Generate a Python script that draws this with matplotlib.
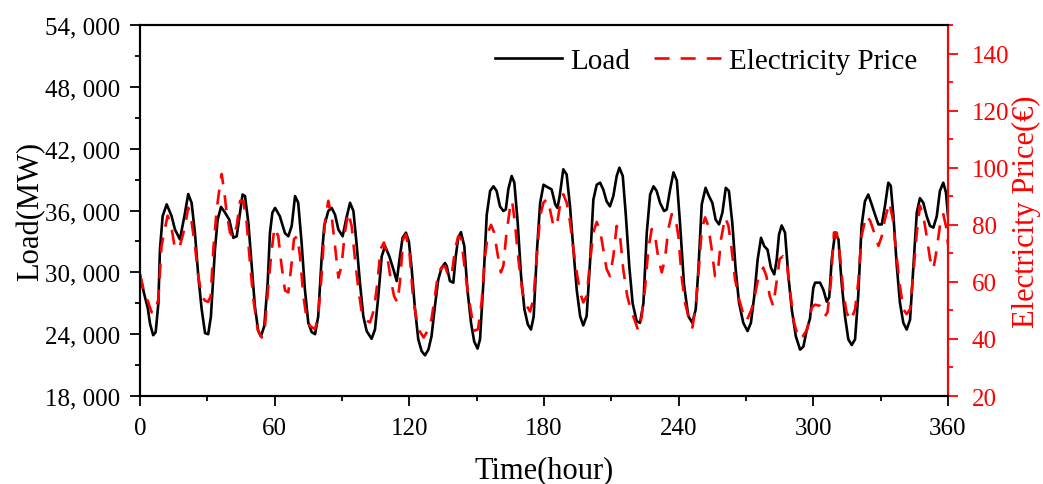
import matplotlib
matplotlib.use('Agg')
from matplotlib import pyplot as plt
from matplotlib.ticker import MultipleLocator, FuncFormatter

plt.rcParams['font.family'] = ['Liberation Serif', 'DejaVu Serif']

# load curve (hour, MW)
load_hours = [0, 2, 3.5, 4.5, 5.9, 7, 8.2, 8.9, 10.1, 11.9, 14.1, 15.6, 17.8, 19.8, 21.5, 23, 24.5, 26, 27.5, 29,
              30.4, 31.6, 33.4, 34.6, 36.1, 37.9, 39.8, 41.6, 43.1, 44.6, 45.7, 46.8, 48.3, 49.8, 51.2, 52.7, 53.9,
              55.4, 56.9, 57.9, 59, 60.2, 62.3, 64.6, 66.1, 67.6, 69.1, 70.5, 72, 73.5, 75, 76.5, 78, 79.4, 80.9,
              82.1, 83.9, 85.4, 86.9, 88.4, 90.3, 91.8, 93.6, 95.1, 96.6, 98, 99.5, 101, 103.2, 104.7, 106.2, 107.7,
              109.2, 111.1, 112.9, 114.4, 115.8, 117, 118.5, 119.8, 121, 122.5, 124, 125.5, 127, 128.5, 129.9, 131.4,
              132.9, 134.4, 135.9, 136.7, 138.1, 139.6, 140.7, 141.8, 143, 144.5, 145.9, 147.5, 148.9, 150.4, 151.5,
              153, 154.5, 156, 157.5, 158.9, 160.4, 161.9, 163, 164.1, 165.6, 166.8, 168.3, 169.8, 171.3, 172.8,
              174.2, 175.4, 176.9, 178.3, 179.8, 181.3, 183.4, 185, 186, 187, 188.6, 190.1, 191.6, 193.1, 194.6,
              196.1, 197.5, 199, 200.5, 202, 203.5, 205, 206.4, 207.9, 209.4, 210.9, 212.4, 213.6, 215.1, 216.5,
              218, 219.5, 221.3, 222.8, 224.3, 225.8, 227.3, 228.8, 230.2, 231.7, 233.5, 234.7, 236.2, 237.7, 239.2,
              240.6, 242.4, 244.3, 246.1, 247.6, 248.8, 250.3, 252, 253.5, 255, 256.5, 258, 259.5, 261, 262.4,
              263.9, 265.4, 266.9, 268.8, 270.7, 272.2, 273.7, 275.2, 276.7, 278.1, 279.6, 281.1, 282.6, 283.7,
              284.7, 285.9, 287.4, 288.9, 290.4, 292.2, 294.1, 295.6, 297.1, 298.5, 300, 300.8, 303, 304.5, 306,
              307.1, 308.2, 309.7, 311.2, 312.6, 314.1, 315.6, 317.1, 318.6, 320, 321.5, 323, 324.5, 326, 327.5,
              329, 330.5, 331.9, 333.4, 334.5, 335.7, 337.2, 338.6, 340.1, 341.6, 343.1, 344.6, 346.1, 347.5, 349,
              350.5, 352, 353.5, 355, 356.4, 357.9, 359.1, 360]
load_mw = [29700, 27800, 26500, 25000, 23900, 24200, 27000, 32200, 35450, 36600, 35450, 34150, 33200, 35450, 37600,
           36750, 33800, 29600, 26400, 24100, 24000, 25700, 32200, 35100, 36350, 35800, 35100, 33350, 33500, 35800,
           37550, 37400, 34800, 30600, 26700, 24300, 23800, 24800, 29000, 33800, 35800, 36250, 35450, 33800, 33500,
           34500, 37400, 36750, 32900, 28300, 25100, 24200, 24000, 25700, 31250, 34500, 35950, 36250, 35600, 34150,
           33500, 35100, 36750, 35950, 32550, 29000, 25750, 24300, 23550, 24450, 27700, 31550, 32550, 31550, 30300,
           29150, 31550, 33350, 33850, 33000, 30500, 26500, 23500, 22350, 21950, 22500, 23800, 26700, 29300, 30450,
           30900, 30600, 29150, 29000, 31550, 33350, 33900, 32550, 28300, 25100, 23300, 22600, 23500, 29000, 35600,
           37900, 38350, 37900, 36400, 35950, 36100, 38050, 39350, 38700, 34800, 29600, 26400, 24950, 24450, 25700,
           32200, 36750, 38500, 38300, 38050, 36600, 36250, 37400, 40000, 39500, 36400, 32200, 28300, 25750, 24850,
           25750, 30900, 37050, 38500, 38700, 38050, 36900, 36400, 37400, 39350, 40150, 39350, 35450, 30600, 27000,
           25250, 25100, 27000, 33850, 37550, 38350, 37900, 36750, 35950, 36100, 38050, 39700, 38900, 34800, 28800,
           25750, 25100, 26400, 30300, 36600, 38200, 37400, 36750, 35100, 34650, 35800, 38200, 37900, 34800, 30300,
           27050, 25100, 24300, 25100, 27700, 31250, 33350, 32550, 32200, 30450, 29800, 31250, 33650, 34550, 33850,
           29600, 26400, 23800, 22500, 22800, 24450, 25500, 28500, 29000, 29000, 28300, 27150, 27600, 31250, 33850,
           33200, 29000, 25750, 23500, 22950, 23500, 27700, 34500, 36900, 37550, 36600, 35600, 34650, 34650, 36400,
           38700, 38400, 35450, 30600, 27050, 25100, 24450, 25400, 30600, 35800, 37200, 36750, 35450, 34500, 34350,
           35450, 37900, 38700, 37750, 35500]

# electricity price (hour, EUR)
price_hours = [0, 2, 3.7, 5.2, 6.5, 8.2, 9.6, 11.1, 12.3, 13.8, 15.6, 17.8, 19.8, 21.5, 23, 24.5, 26, 27.5, 29, 30.4,
               31.5, 32.7, 34.2, 35.6, 36.4, 37.6, 38.6, 40.1, 41.6, 43.1, 44.6, 46, 47.5, 49, 50.5, 52.4, 54.2,
               55.7, 57.2, 58.4, 59.9, 61.6, 63.1, 64.6, 66.1, 67.6, 68.6, 70.1, 71.3, 72.8, 74.3, 75.7, 78, 79.4,
               80.9, 82.4, 83.9, 85.4, 86.9, 88.4, 89.8, 91.3, 92.8, 94.3, 95.8, 97.3, 98.8, 101, 102.5, 104.3, 105.8,
               107.2, 108.7, 109.9, 111.7, 113.2, 114.7, 115.8, 117.3, 118.5, 120.1, 121.5, 122.5, 124, 126.4, 128.5,
               129.9, 131.4, 132.9, 134.4, 135.9, 137.4, 138.8, 140.4, 141.8, 143.2, 144.7, 146.1, 147.8, 149.1,
               150.6, 152.2, 153.6, 155.1, 156.4, 157.8, 159.2, 160.8, 161.9, 163.3, 164.8, 165.8, 167, 168.6, 170.4,
               172.3, 173.8, 175.3, 176.8, 178.3, 179.8, 181.3, 182.5, 184.2, 185.7, 187.1, 188.6, 190.1, 191.6,
               193.1, 194.6, 196.1, 197.5, 199, 200.5, 202, 203.5, 205, 206.4, 207.9, 209.4, 210.9, 212.4, 213.9,
               215.3, 217.1, 218.6, 220.5, 222, 223.5, 225, 226.5, 228, 229.5, 231, 232.5, 233.9, 235.4, 236.9,
               238.4, 239.9, 241.3, 242.8, 244.3, 246.1, 247.6, 249.1, 250.3, 251.8, 253.2, 254.7, 256.2, 257.4,
               258.9, 260.7, 262.2, 263.6, 265.1, 266.9, 268.8, 270.3, 272.5, 273.9, 275.4, 277.7, 279.1, 280.6,
               282.1, 283.6, 285, 286.5, 288, 289.5, 291.4, 293.5, 295.4, 297.3, 299.3, 300.7, 303, 305.2, 306.3,
               307.8, 309.2, 310.4, 311.9, 313.4, 314.8, 316.7, 318.6, 320, 321.5, 323.5, 325.3, 326.8, 329, 330.5,
               331.9, 333.9, 335.4, 336.9, 338.6, 340.1, 341.6, 343.1, 344.6, 346.1, 347.5, 349, 350.5, 352, 353.5,
               355, 356.4, 357.9, 359.4, 360]
price_eur = [62.7, 56, 52.8, 49.3, 49, 54, 72.6, 78.5, 83.2, 80.2, 71.5, 72.6, 78.5, 86, 81, 72.6, 62, 55, 53.4, 53,
             55, 71.5, 85.5, 93.7, 97.8, 91.3, 84.3, 77.3, 75.5, 79.6, 88.4, 88.4, 81, 66.8, 54, 43.4, 40.5, 44.6,
             58.6, 69, 79, 76, 65.6, 57, 56.3, 66.8, 75, 76, 69, 55, 47, 44.6, 43.4, 48, 62, 81, 88.4, 83, 72.6, 61.5,
             65.6, 77.3, 84.3, 79.6, 68, 57.5, 49.3, 46.4, 45.8, 50.4, 59.8, 71.5, 73.8, 70.3, 61, 55, 52.8, 59.8, 75,
             76.7, 70, 56, 50.4, 43.4, 40.5, 43.4, 47, 55, 63.3, 65, 65.6, 62, 62, 71.5, 76, 75, 64.5, 56.3, 48, 42.9,
             43.4, 52.8, 68, 77.3, 80, 77.3, 70.3, 63.3, 65.6, 77.3, 85.5, 88.4, 81, 68, 56.3, 51.6, 49.6, 54, 69,
             83.2, 87.8, 89, 86, 79.6, 79.6, 86.7, 90.7, 87.8, 81, 71.5, 63.3, 56.3, 52.8, 55, 66.8, 77.3, 81, 78,
             71.5, 64.5, 62, 69, 79.6, 76, 64.5, 55, 50.4, 46.4, 42.9, 47.7, 57.5, 71.5, 78.5, 76, 68, 63.3, 68, 78.5,
             83.7, 83.2, 76, 62, 52.8, 48, 44, 51.6, 65.6, 78.5, 82.6, 79.6, 71.5, 62, 63, 75, 82.6, 79.6, 71.5, 61,
             54, 48.7, 46.4, 50.4, 55, 61, 65, 62, 55, 51.6, 59.8, 68, 69, 68, 57.5, 45.8, 40, 41, 43.4, 51, 52, 51.6,
             48, 49.3, 59.8, 77.3, 77.3, 69, 56.3, 49.3, 46.4, 50.4, 59.8, 76, 83.2, 81.5, 78, 72.6, 76, 82, 87.8, 82,
             70.3, 58.6, 50.4, 48.7, 50.4, 63.3, 77.3, 86.7, 83.2, 76, 68, 64.5, 71.5, 79.6, 83.7, 78.5, 73]


def thousands(v, pos):
    return f"{int(round(v)):,}".replace(",", ", ")


fig = plt.figure(figsize=(10.43, 4.85), dpi=100)
ax = fig.add_axes([0.1342, 0.1814, 0.7747, 0.765])
ax2 = ax.twinx()

l1, = ax.plot(load_hours, load_mw, color='black', lw=1.9, label='Load')
l2, = ax2.plot(price_hours, price_eur, color='red', lw=1.9, dashes=(5.7, 4.2), label='Electricity Price')

ax.set_xlim(0, 360)
ax.set_ylim(18000, 54000)
ax2.set_ylim(20, 150)

ax.xaxis.set_major_locator(MultipleLocator(60))
ax.xaxis.set_minor_locator(MultipleLocator(30))
ax.yaxis.set_major_locator(MultipleLocator(6000))
ax.yaxis.set_minor_locator(MultipleLocator(3000))
ax.yaxis.set_major_formatter(FuncFormatter(thousands))
ax2.yaxis.set_major_locator(MultipleLocator(20))
ax2.yaxis.set_minor_locator(MultipleLocator(10))

for a in (ax, ax2):
    for s in a.spines.values():
        s.set_linewidth(1.5)
    a.tick_params(which='major', direction='out', length=7, width=1.3, labelsize=18, pad=7)
    a.tick_params(which='minor', direction='out', length=3.5, width=1.3)
ax.tick_params(axis='x', pad=8)
ax2.tick_params(axis='y', pad=10)

ax2.spines['right'].set_color('red')
ax2.tick_params(axis='y', which='both', colors='red')

ax.set_xlabel('Time(hour)', fontsize=22, labelpad=12)
ax.set_ylabel('Load(MW)', fontsize=22, labelpad=0)
ax2.set_ylabel('Electricity Price(€)', fontsize=22, color='red', labelpad=2)

ax2.legend([l1, l2], ['Load', 'Electricity Price'], loc='upper right', ncol=2, frameon=False,
           fontsize=21, handlelength=2.3, handletextpad=0.3, columnspacing=0.8,
           borderaxespad=0, bbox_to_anchor=(0.977, 0.97))

plt.savefig('out.png', dpi=100)
